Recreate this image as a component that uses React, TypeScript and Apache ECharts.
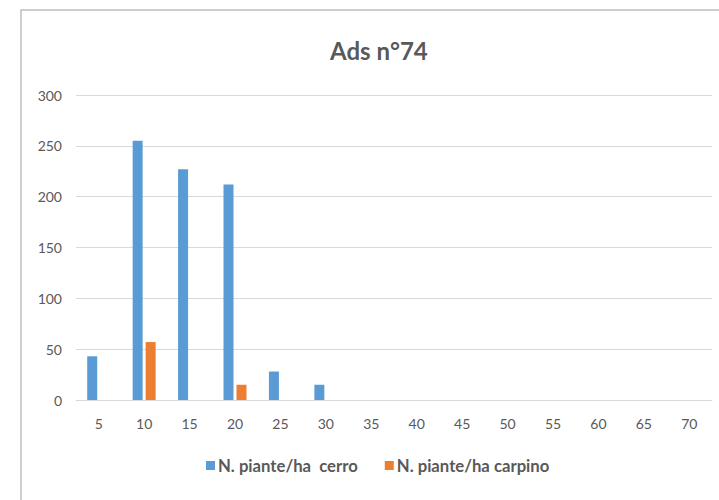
import React, { useEffect, useRef } from "react";
import * as echarts from "echarts";

const categories = ["5", "10", "15", "20", "25", "30", "35", "40", "45", "50", "55", "60", "65", "70"];
const cerro = [43, 255, 227, 212, 28, 15, 0, 0, 0, 0, 0, 0, 0, 0];
const carpino = [0, 57, 0, 15, 0, 0, 0, 0, 0, 0, 0, 0, 0, 0];
const seriesNames = ["N. piante/ha\u00a0 cerro", "N. piante/ha carpino"];

export default function App() {
  const ref = useRef<HTMLDivElement>(null);
  useEffect(() => {
    if (!ref.current) return;
    const chart = echarts.init(ref.current, null, { renderer: "svg" });
    const font = "Lato, 'Open Sans', sans-serif";
    chart.setOption({
      animation: false,
      backgroundColor: "#ffffff",
      textStyle: { fontFamily: font },
      graphic: [
        {
          type: "rect",
          shape: { x: 21, y: 10, width: 760, height: 560 },
          style: { fill: "none", stroke: "#bfbfbf", lineWidth: 1.5 },
          silent: true,
        },
      ],
      title: {
        text: "Ads n°74",
        left: 325,
        top: 33,
        textStyle: { fontFamily: font, fontSize: 24, fontWeight: "bold", color: "#595959" },
      },
      legend: {
        bottom: 21,
        left: 201,
        itemWidth: 9,
        itemHeight: 9,
        itemGap: 27,
        icon: "rect",
        textStyle: { fontFamily: font, fontSize: 16.7, fontWeight: "bold", color: "#595959", padding: [0, 0, 0, -2] },
        data: seriesNames,
      },
      grid: { left: 76, right: 7, top: 95, bottom: 100 },
      xAxis: {
        type: "category",
        data: categories,
        axisLine: { lineStyle: { color: "#d9d9d9", width: 1 } },
        axisTick: { show: false },
        axisLabel: { color: "#595959", fontSize: 14, fontFamily: font, margin: 16 },
      },
      yAxis: {
        type: "value",
        min: 0,
        max: 300,
        interval: 50,
        axisLine: { show: false },
        axisTick: { show: false },
        axisLabel: { color: "#595959", fontSize: 14, fontFamily: font, margin: 14 },
        splitLine: { lineStyle: { color: "#d9d9d9", width: 1 } },
      },
      series: [
        {
          name: seriesNames[0],
          type: "bar",
          data: cerro,
          barWidth: 10,
          barGap: "30%",
          itemStyle: { color: "#5b9bd5" },
        },
        {
          name: seriesNames[1],
          type: "bar",
          data: carpino,
          barWidth: 10,
          itemStyle: { color: "#ed7d31" },
        },
      ],
    });
    return () => chart.dispose();
  }, []);
  return (
    <div
      ref={ref}
      style={{ position: "fixed", left: 0, top: 0, width: 719, height: 500 }}
    />
  );
}
